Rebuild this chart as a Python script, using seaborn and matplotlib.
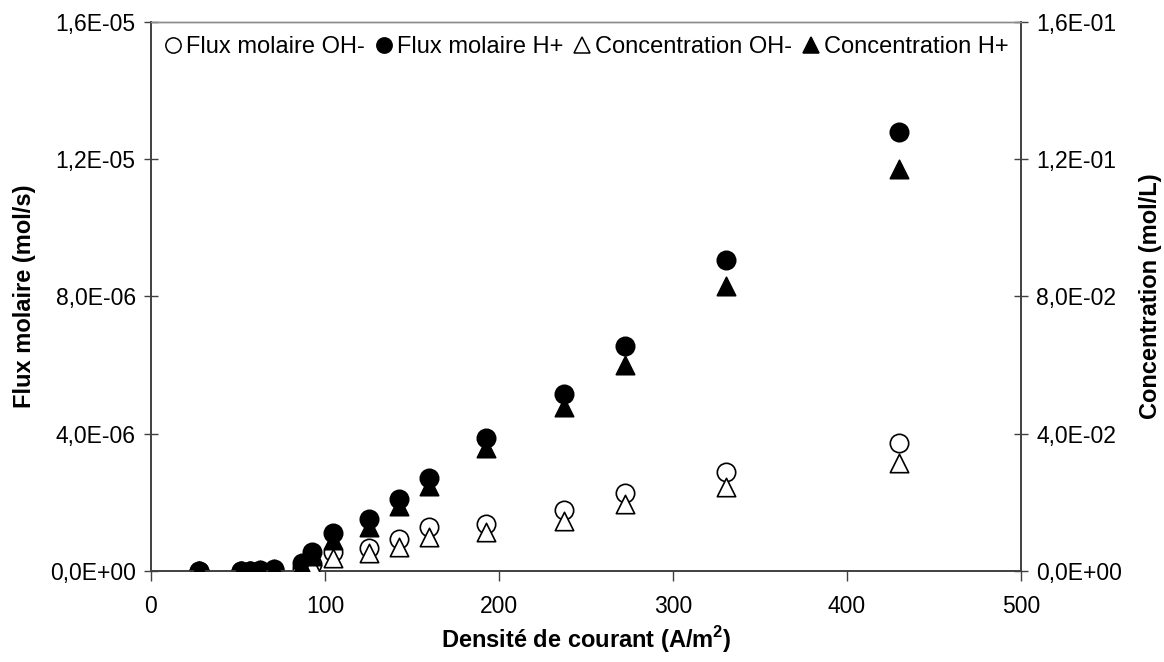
import matplotlib

matplotlib.use("Agg")
import matplotlib.pyplot as plt
import pandas as pd
import seaborn as sns
from matplotlib.lines import Line2D
from matplotlib.ticker import FuncFormatter, MultipleLocator

# --------------------------------------------------------------------------- #
# Data
# --------------------------------------------------------------------------- #
current_density = [27.5, 52, 56.7, 62.5, 70.5, 86.8, 92.5, 104.6, 125.1,
                   142.5, 159.8, 192.8, 237.4, 272.6, 330.3, 430.2]
flux_oh = [0, 0, 0, 0, 0.02e-6, 0.10e-6, 0.20e-6, 0.55e-6, 0.66e-6,
           0.92e-6, 1.28e-6, 1.38e-6, 1.77e-6, 2.28e-6, 2.875e-6, 3.73e-6]
flux_h = [0, 0, 0, 0.02e-6, 0.07e-6, 0.23e-6, 0.55e-6, 1.11e-6, 1.50e-6,
          2.11e-6, 2.72e-6, 3.86e-6, 5.15e-6, 6.55e-6, 9.05e-6, 12.79e-6]
conc_oh = [0, 0, 0, 0, 0.0002, 0.0008, 0.0015, 0.0037, 0.0052,
           0.0070, 0.0099, 0.0114, 0.0145, 0.0196, 0.0245, 0.0315]
conc_h = [0, 0, 0, 0.0002, 0.0007, 0.0015, 0.0045, 0.0089, 0.0128,
          0.0188, 0.0247, 0.0357, 0.0478, 0.0599, 0.0830, 0.1172]

labels = ["Flux molaire OH-", "Flux molaire H+",
          "Concentration OH-", "Concentration H+"]

df = pd.DataFrame({"j": current_density, "flux_oh": flux_oh, "flux_h": flux_h,
                   "conc_oh": conc_oh, "conc_h": conc_h})

# --------------------------------------------------------------------------- #
# Style
# --------------------------------------------------------------------------- #
sns.set_style("white")
plt.rcParams["font.family"] = ["Liberation Sans", "DejaVu Sans"]
plt.rcParams["mathtext.fontset"] = "custom"
plt.rcParams["mathtext.rm"] = "Liberation Sans"
plt.rcParams["mathtext.bf"] = "Liberation Sans:bold"
plt.rcParams["text.color"] = "black"
plt.rcParams["axes.labelcolor"] = "black"
plt.rcParams["xtick.color"] = "black"
plt.rcParams["ytick.color"] = "black"

sci_fmt = FuncFormatter(lambda v, _: f"{v:.1E}".replace(".", ","))
spine_col = "#404040"
tick_fs, label_fs = 16.5, 17

fig = plt.figure(figsize=(11.64, 6.62), dpi=100)
ax = fig.add_axes([0.1297, 0.1375, 0.7474, 0.8295])
ax2 = ax.twinx()

kw = dict(s=175, edgecolor="black", linewidth=1.2, legend=False, zorder=3)
sns.scatterplot(data=df, x="j", y="flux_oh", ax=ax, marker="o", color="white", **kw)
sns.scatterplot(data=df, x="j", y="flux_h", ax=ax, marker="o", color="black", **kw)
sns.scatterplot(data=df, x="j", y="conc_oh", ax=ax2, marker="^", color="white", **kw)
sns.scatterplot(data=df, x="j", y="conc_h", ax=ax2, marker="^", color="black", **kw)

ax.set_xlim(0, 500)
ax.set_ylim(0, 1.6e-5)
ax2.set_ylim(0, 0.16)
ax.xaxis.set_major_locator(MultipleLocator(100))
ax.yaxis.set_major_locator(MultipleLocator(4e-6))
ax2.yaxis.set_major_locator(MultipleLocator(0.04))
ax.yaxis.set_major_formatter(sci_fmt)
ax2.yaxis.set_major_formatter(sci_fmt)

for a in (ax, ax2):
    for sp in a.spines.values():
        sp.set_color(spine_col)
        sp.set_linewidth(1.2)
    a.spines["top"].set_color("#8c8c8c")
    a.spines["top"].set_linewidth(1.0)
ax.tick_params(axis="x", direction="out", length=7, width=1, color=spine_col,
               labelcolor="black", labelsize=tick_fs, pad=10, bottom=True)
ax.tick_params(axis="y", direction="inout", length=10, width=1, color=spine_col,
               labelcolor="black", labelsize=tick_fs, pad=6, left=True)
ax2.tick_params(axis="y", direction="inout", length=10, width=1, color=spine_col,
                labelcolor="black", labelsize=tick_fs, pad=6, right=True)

ax.set_xlabel(r"Densité de courant (A/m$^\mathbf{2}$)", fontsize=label_fs,
              fontweight="bold", labelpad=5)
ax.set_ylabel("Flux molaire (mol/s)", fontsize=label_fs, fontweight="bold", labelpad=10)
ax2.set_ylabel("Concentration (mol/L)", fontsize=label_fs, fontweight="bold", labelpad=12)

handles = [
    Line2D([], [], ls="", marker="o", ms=11, mfc="white", mec="black", mew=1.1),
    Line2D([], [], ls="", marker="o", ms=11, mfc="black", mec="black", mew=1.1),
    Line2D([], [], ls="", marker="^", ms=11, mfc="white", mec="black", mew=1.1),
    Line2D([], [], ls="", marker="^", ms=11, mfc="black", mec="black", mew=1.1),
]
ax.legend(handles, labels, loc="upper left", ncol=4, frameon=False,
          fontsize=label_fs, handlelength=0.7, handletextpad=0.2, columnspacing=0.45,
          borderaxespad=0.2, bbox_to_anchor=(0.0, 1.0))

fig.savefig("out.png", dpi=100)
plt.close(fig)
